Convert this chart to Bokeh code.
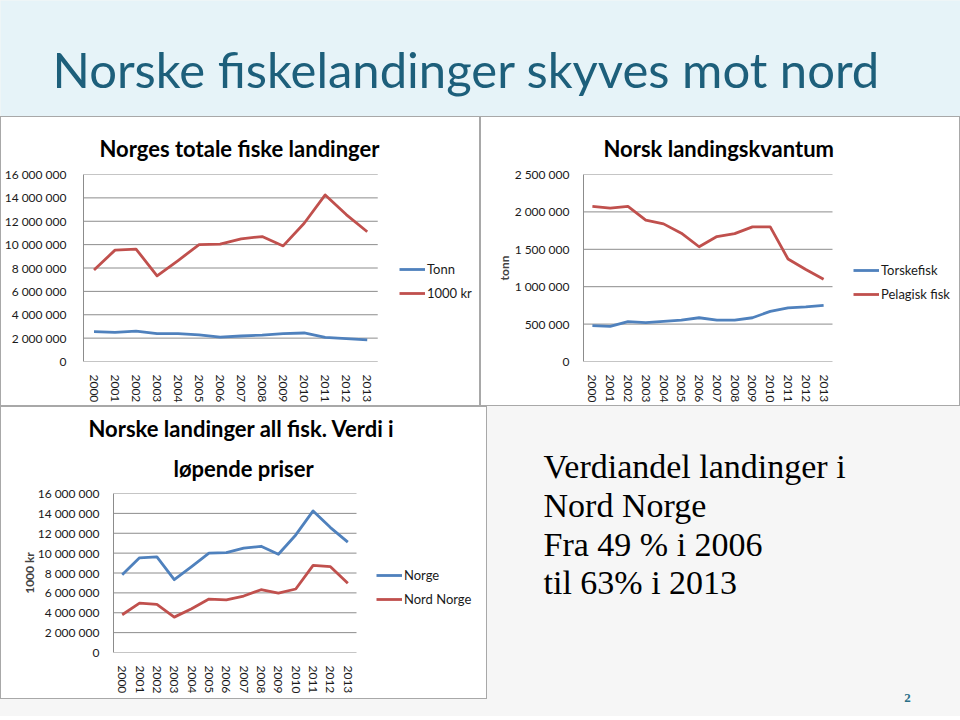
from bokeh.plotting import figure
from bokeh.models import (Range1d, FixedTicker, CustomJSTickFormatter,
                          Legend, LegendItem, Title)
from bokeh.core.properties import value
from bokeh.layouts import row, column
from bokeh.embed import file_html
from bokeh.resources import INLINE

# ---------------- data ----------------
years = ["2000", "2001", "2002", "2003", "2004", "2005", "2006",
         "2007", "2008", "2009", "2010", "2011", "2012", "2013"]

tonn_total = [2550000, 2500000, 2600000, 2380000, 2380000, 2270000, 2080000,
              2180000, 2260000, 2380000, 2440000, 2070000, 1960000, 1850000]
verdi_norge = [7830000, 9530000, 9620000, 7330000, 8640000, 10000000, 10050000,
               10500000, 10690000, 9890000, 11830000, 14250000, 12570000, 11100000]
verdi_nord_norge = [3800000, 4970000, 4840000, 3560000, 4400000, 5380000, 5300000,
                    5680000, 6320000, 5980000, 6390000, 8770000, 8640000, 6960000]
torskefisk = [479000, 470000, 532000, 519000, 536000, 554000, 585000,
              554000, 554000, 585000, 670000, 718000, 730000, 750000]
pelagisk = [2075000, 2050000, 2075000, 1890000, 1840000, 1715000, 1534000,
            1670000, 1710000, 1800000, 1800000, 1370000, 1230000, 1100000]

ticks_verdi = [0, 2000000, 4000000, 6000000, 8000000, 10000000, 12000000, 14000000, 16000000]
ticks_kvantum = [0, 500000, 1000000, 1500000, 2000000, 2500000]

heading = "Norske fiskelandinger skyves mot nord"
text_lines = ["Verdiandel landinger i", "Nord Norge", "Fra 49 % i 2006", "til 63% i 2013"]

BLUE = "#4F81BD"
RED = "#C0504D"
GRID = "#8c8c8c"
FONT = "Lato"
SLIDE_BG = "#f6f6f6"
BOX = "#a8a8a8"

fmt = CustomJSTickFormatter(code="""
return tick.toFixed(0).replace(/\\B(?=(\\d{3})+(?!\\d))/g, ' ');
""")

idx = list(range(len(years)))
x_lo = -0.5
x_hi = len(years) - 0.5


def make_chart(width, height, left, right, top, bottom, data_w, ymax, yticks, series,
               titles, legend_xy, tick_standoff=12, ylabel=None, ylabel_standoff=0):
    frame_w = width - left - right
    x_end = x_lo + (x_hi - x_lo) * frame_w / data_w
    p = figure(width=width, height=height, x_range=Range1d(x_lo, x_end),
               y_range=Range1d(0, ymax), toolbar_location=None,
               output_backend="svg", min_border_left=left, min_border_right=right,
               min_border_top=top, min_border_bottom=bottom)
    p.margin = (1, 1, 1, 1)
    p.styles = {"background-color": "white"}
    p.background_fill_color = "white"
    p.border_fill_color = "white"
    p.outline_line_color = None
    p.grid.grid_line_color = None
    # horizontal gridlines over the data area only
    p.segment(x0=[x_lo] * len(yticks), x1=[x_hi] * len(yticks), y0=yticks, y1=yticks,
              line_color=GRID, line_width=1)
    p.yaxis.ticker = FixedTicker(ticks=yticks)
    p.yaxis.formatter = fmt
    p.xaxis.ticker = FixedTicker(ticks=idx)
    p.xaxis.major_label_overrides = {i: y for i, y in zip(idx, years)}
    for ax in (p.xaxis, p.yaxis):
        ax.major_tick_line_color = None
        ax.minor_tick_line_color = None
        ax.major_label_text_font = FONT
        ax.major_label_text_font_size = "12px"
        ax.major_label_text_color = "#1a1a1a"
    p.yaxis.axis_line_color = GRID
    p.xaxis.axis_line_color = None
    p.yaxis.major_label_standoff = tick_standoff
    p.xaxis.major_label_standoff = 7
    p.xaxis.major_label_orientation = "vertical"
    if ylabel:
        p.yaxis.axis_label = ylabel
        p.yaxis.axis_label_text_font = FONT
        p.yaxis.axis_label_text_font_style = "bold"
        p.yaxis.axis_label_text_font_size = "12px"
        p.yaxis.axis_label_standoff = ylabel_standoff
    items = []
    for name, vals, color in series:
        r = p.line(idx, vals, line_color=color, line_width=2.8, line_join="round")
        items.append(LegendItem(label=name, renderers=[r]))
    leg = Legend(items=items, location=legend_xy, orientation="vertical",
                 glyph_width=26, glyph_height=20, spacing=4, padding=0, margin=0,
                 label_standoff=2, label_text_font=FONT, label_text_font_size="13px",
                 label_text_color="#1a1a1a", border_line_color=None,
                 background_fill_alpha=0)
    p.add_layout(leg, "center")
    # titles listed from nearest the plot outward
    for txt, off, stand in titles:
        p.add_layout(Title(text=txt, align="left", offset=off, standoff=stand,
                           text_font=FONT, text_font_style="bold",
                           text_font_size="22px", text_color="black"), "above")
    return column(p, styles={"background-color": BOX})


c1 = make_chart(478, 288, 81, 4, 57, 43, 295, 16000000, ticks_verdi,
                [("Tonn", tonn_total, BLUE), ("1000 kr", verdi_norge, RED)],
                [("Norges totale fiske landinger", 16, 26)], (316, 58),
                tick_standoff=11)

c2 = make_chart(478, 288, 102, 4, 57, 43, 249, 2500000, ticks_kvantum,
                [("Torskefisk", torskefisk, BLUE), ("Pelagisk fisk", pelagisk, RED)],
                [("Norsk landingskvantum", 20, 26)], (270, 57),
                tick_standoff=8, ylabel="tonn", ylabel_standoff=0)

c3 = make_chart(485, 291, 112, 4, 86, 46, 243, 16000000, ticks_verdi,
                [("Norge", verdi_norge, BLUE), ("Nord Norge", verdi_nord_norge, RED)],
                [("løpende priser", 60, 23), ("Norske landinger all fisk. Verdi i", -25, 0)],
                (263, 43), tick_standoff=8, ylabel="1000 kr", ylabel_standoff=-2)

# ---------------- heading ----------------
TW, TH = 960, 116
pt = figure(width=TW, height=TH, x_range=Range1d(0, TW), y_range=Range1d(TH, 0),
            toolbar_location=None, output_backend="svg", min_border=0,
            x_axis_location=None, y_axis_location=None)
pt.grid.grid_line_color = None
pt.outline_line_color = None
pt.background_fill_color = "#e6f3f8"
pt.border_fill_color = "#e6f3f8"
pt.text(x=[52], y=[68], text=[heading], text_font=value(FONT),
        text_font_size=value("49px"), text_color="#1d5f7b",
        text_baseline="alphabetic", text_align="left")

# ---------------- text panel ----------------
XW, XH = 473, 310
ptx = figure(width=XW, height=XH, x_range=Range1d(0, XW), y_range=Range1d(XH, 0),
             toolbar_location=None, output_backend="svg", min_border=0,
             x_axis_location=None, y_axis_location=None)
ptx.grid.grid_line_color = None
ptx.outline_line_color = None
ptx.background_fill_color = SLIDE_BG
ptx.border_fill_color = SLIDE_BG
ptx.text(x=[56, 56, 56, 56], y=[60, 99, 138, 176], text=text_lines,
         text_font=value("Liberation Serif"), text_font_size=value("34px"),
         text_color="black", text_baseline="alphabetic", text_align="left")
ptx.text(x=[420], y=[291], text=["2"], text_font=value("Liberation Serif"),
         text_font_size=value("13px"), text_font_style="bold", text_color="#2a6f86",
         text_align="center", text_baseline="middle")

layout = column(column(pt), row(c1, c2), row(c3, column(ptx)))
layout.styles = {"background-color": SLIDE_BG}

open("out.html", "w").write(file_html(layout, INLINE))
